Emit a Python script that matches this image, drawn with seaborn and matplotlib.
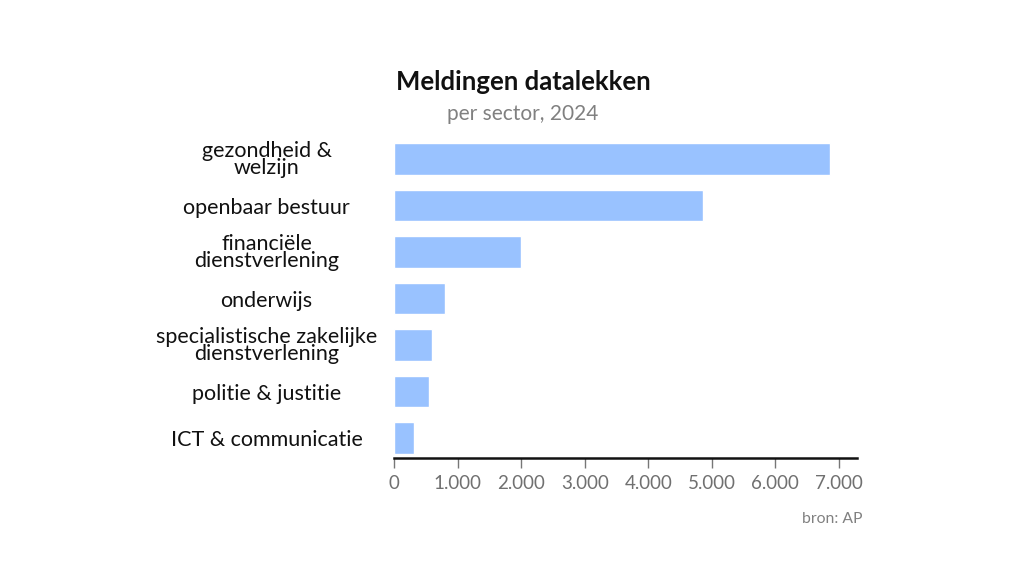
import matplotlib
matplotlib.use("Agg")
import matplotlib.pyplot as plt
import seaborn as sns
import pandas as pd
from matplotlib.ticker import FuncFormatter

categories = ["gezondheid &\nwelzijn", "openbaar bestuur", "financiële\ndienstverlening",
              "onderwijs", "specialistische zakelijke\ndienstverlening",
              "politie & justitie", "ICT & communicatie"]
values = [6865, 4865, 1990, 800, 600, 550, 310]
xticks = [0, 1000, 2000, 3000, 4000, 5000, 6000, 7000]

sns.set_theme(style="white")
plt.rcParams['font.family'] = ['Lato', 'DejaVu Sans']

df = pd.DataFrame({"sector": categories, "meldingen": values})

fig = plt.figure(figsize=(10.24, 5.76), dpi=100)
ax = fig.add_axes([394.3/1024, 1-458/576, (857.3-394.3)/1024, (458-135.75)/576])

sns.barplot(data=df, x="meldingen", y="sector", color="#99c2ff", width=0.67,
            saturation=1, ax=ax, orient="h")

ax.set_xlim(0, 7291)
ax.set_ylim(6.43, -0.5)
ax.set_xticks(xticks)
ax.xaxis.set_major_formatter(FuncFormatter(lambda v, p: f"{int(v):,}".replace(",", ".")))
ax.set_xlabel("")
ax.set_ylabel("")

for s in ["top", "right", "left"]:
    ax.spines[s].set_visible(False)
ax.spines["bottom"].set_color("#111111")
ax.spines["bottom"].set_linewidth(1.8)

ax.tick_params(axis="x", bottom=True, length=7, width=1, color="#777777",
               labelsize=13.5, labelcolor="#707070", pad=5)
ax.tick_params(axis="y", left=False, length=0, pad=92, labelsize=15.5, labelcolor="#111111")
for lab in ax.get_yticklabels():
    lab.set_horizontalalignment("center")
    lab.set_multialignment("center")
    lab.set_linespacing(0.82)

fig.text(523/1024, 1-82/576, "Meldingen datalekken", ha="center", va="center",
         fontsize=18.5, fontweight="bold", color="#111111")
fig.text(523/1024, 1-114/576, "per sector, 2024", ha="center", va="center",
         fontsize=15, color="#808080")
fig.text(862/1024, 1-519/576, "bron: AP", ha="right", va="center",
         fontsize=11.3, color="#808080")

fig.savefig("out.png", dpi=100)
